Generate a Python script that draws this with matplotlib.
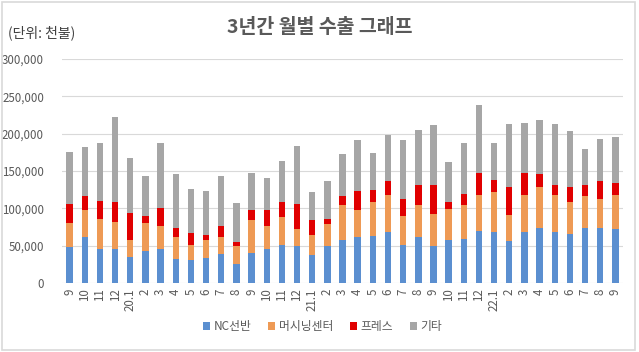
import matplotlib
matplotlib.use("Agg")
import matplotlib.pyplot as plt
from matplotlib.patches import Rectangle
from matplotlib.ticker import FuncFormatter
import numpy as np

plt.rcParams["font.family"] = ["Noto Sans CJK KR", "DejaVu Sans"]

# month labels, 2019.9 .. 2022.9
months = ["9", "10", "11", "12", "20.1", "2", "3", "4", "5", "6", "7", "8",
          "9", "10", "11", "12", "21.1", "2", "3", "4", "5", "6", "7", "8",
          "9", "10", "11", "12", "22.1", "2", "3", "4", "5", "6", "7", "8", "9"]

# export values (thousand USD)
nc_lathe = [48, 61, 46, 46, 35, 43, 46, 32, 31, 34, 39, 26,
            40, 46, 51, 49, 37, 49, 58, 61, 63, 69, 51, 62,
            49, 57, 59, 70, 69, 56, 68, 74, 69, 66, 74, 74, 73]
machining = [33, 37, 40, 36, 23, 38, 31, 29, 20, 24, 22, 23,
             45, 31, 37, 24, 28, 30, 47, 37, 46, 49, 39, 43,
             44, 42, 46, 48, 53, 35, 50, 55, 49, 43, 43, 39, 45]
press = [25, 19, 24, 26, 36, 9, 23, 13, 16, 7, 15, 6,
         13, 21, 21, 33, 20, 7, 11, 25, 15, 19, 23, 27,
         38, 10, 14, 29, 16, 37, 29, 17, 13, 19, 14, 24, 16]
etc = [69, 65, 78, 114, 74, 53, 88, 72, 59, 58, 67, 52,
       50, 43, 55, 77, 37, 51, 57, 69, 50, 61, 79, 73,
       81, 53, 69, 91, 50, 85, 67, 72, 82, 76, 49, 56, 62]

series = [("NC선반", nc_lathe, "#5B8FD0"),
          ("머시닝센터", machining, "#EE9A55"),
          ("프레스", press, "#E00000"),
          ("기타", etc, "#A6A6A6")]

fig = plt.figure(figsize=(6.39, 3.52), dpi=100)
ax = fig.add_axes([0.097, 0.196, 0.878, 0.636])

x = np.arange(len(months))
bottom = np.zeros(len(months))
for name, vals, color in series:
    v = np.array(vals) * 1000
    ax.bar(x, v, 0.42, bottom=bottom, color=color, label=name, zorder=3)
    bottom += v

ax.set_xlim(-0.5, len(months) - 0.5)
ax.set_ylim(0, 300000)
ax.set_yticks(np.arange(0, 300001, 50000))
ax.yaxis.set_major_formatter(FuncFormatter(lambda v, p: f"{int(v):,}"))
ax.set_xticks(x)
ax.set_xticklabels(months, rotation=90)
ax.tick_params(axis="both", length=0, labelsize=8.3, colors="#595959")
ax.tick_params(axis="y", pad=13)
ax.tick_params(axis="x", pad=4)
ax.grid(axis="y", color="#D9D9D9", lw=0.8, zorder=0)
for s in ax.spines.values():
    s.set_visible(False)

fig.text(0.5, 0.922, "3년간 월별 수출 그래프", ha="center", va="center",
         fontsize=14, fontweight="bold", color="#595959")
fig.text(0.012, 0.908, "(단위: 천불)", ha="left", va="center",
         fontsize=10, color="#404040")

fig.legend(loc="center", bbox_to_anchor=(0.505, 0.072), ncol=4, frameon=False,
           fontsize=8.5, handlelength=0.6, handleheight=0.6, handletextpad=0.3,
           columnspacing=1.4, labelcolor="#595959")

# chart frame
fig.patches.append(Rectangle((0.003, 0.006), 0.99, 0.988, transform=fig.transFigure,
                             fill=False, edgecolor="#D9D9D9", lw=1.2))

fig.savefig("out.png", dpi=100)
